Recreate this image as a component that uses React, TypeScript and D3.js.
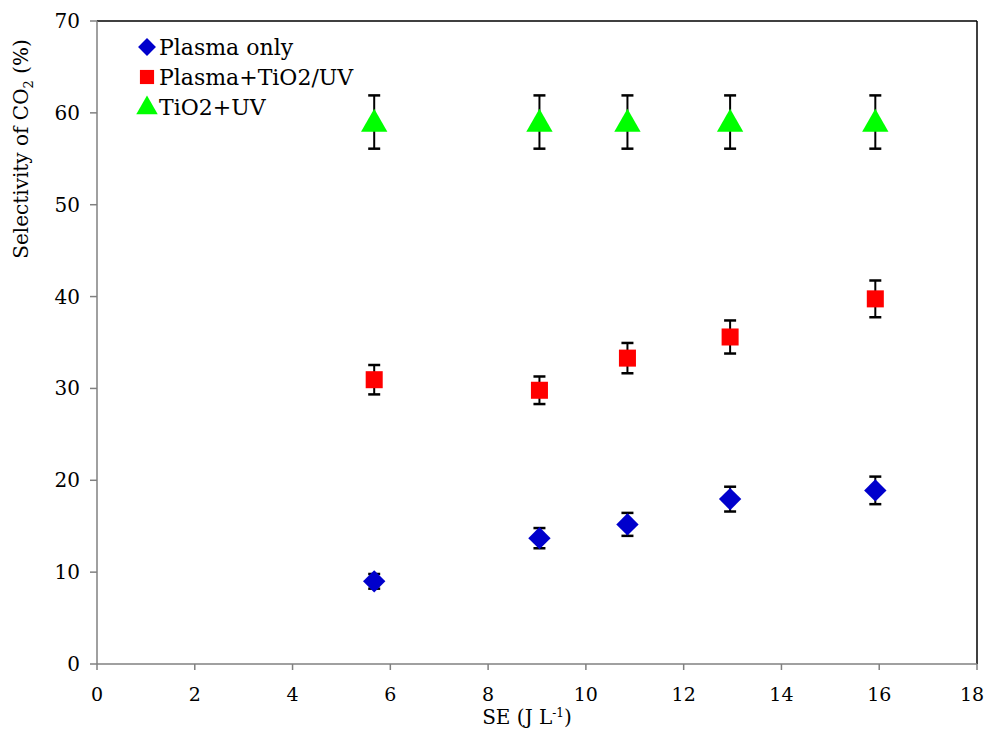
import React from "react";
import * as d3 from "d3";

const seValues = [5.67, 9.05, 10.85, 12.95, 15.92];
const plasmaOnly = [9.0, 13.7, 15.2, 17.95, 18.9];
const plasmaOnlyErr = [0.8, 1.1, 1.25, 1.35, 1.5];
const plasmaTiO2 = [30.95, 29.8, 33.3, 35.6, 39.75];
const plasmaTiO2Err = [1.6, 1.5, 1.65, 1.8, 2.0];
const tio2UV = [59.0, 59.0, 59.0, 59.0, 59.0];
const tio2UVErr = [2.9, 2.9, 2.9, 2.9, 2.9];
const xTicks = [0, 2, 4, 6, 8, 10, 12, 14, 16, 18];
const yTicks = [0, 10, 20, 30, 40, 50, 60, 70];
const seriesNames = ["Plasma only", "Plasma+TiO2/UV", "TiO2+UV"];

const W = 984, H = 731;
const L = 97, R = 977, T = 21, B = 664;
const FONT = "'DejaVu Serif', 'Liberation Serif', 'Times New Roman', serif";

export default function App() {
  const x = d3.scaleLinear().domain([0, 18]).range([L, R]);
  const y = d3.scaleLinear().domain([0, 70]).range([B, T]);
  const series = [
    { name: seriesNames[0], vals: plasmaOnly, err: plasmaOnlyErr, color: "#0000CC", shape: d3.symbolSquare, size: 250, rot: 45, dy: 0 },
    { name: seriesNames[1], vals: plasmaTiO2, err: plasmaTiO2Err, color: "#FF0000", shape: d3.symbolSquare, size: 290, rot: 0, dy: 0 },
    { name: seriesNames[2], vals: tio2UV, err: tio2UVErr, color: "#00FF00", shape: d3.symbolTriangle, size: 300, rot: 0, dy: 2 },
  ];
  const sym = (shape: any, size: number) => d3.symbol().type(shape).size(size)() as string;
  const txt = { fontFamily: FONT } as React.CSSProperties;

  return (
    <svg width={W} height={H} fontFamily={FONT} style={{ position: "absolute", left: 0, top: 0, background: "#fff", fontFamily: FONT }}>
      <rect x={0} y={0} width={W} height={H} fill="#fff" />
      <line x1={L} y1={T} x2={R} y2={T} stroke="#000" strokeWidth={1.5} />
      <line x1={R} y1={T} x2={R} y2={B} stroke="#000" strokeWidth={1.5} />
      <line x1={L} y1={T} x2={L} y2={B} stroke="#808080" strokeWidth={1.5} />
      <line x1={L} y1={B} x2={R} y2={B} stroke="#808080" strokeWidth={1.5} />
      {yTicks.map((t) => (
        <g key={"y" + t}>
          <line x1={L - 7} x2={L} y1={y(t)} y2={y(t)} stroke="#808080" strokeWidth={1.5} />
          <text x={L - 17} y={y(t) + 7} fontSize={20} style={txt} textAnchor="end" fill="#000">{t}</text>
        </g>
      ))}
      {xTicks.map((t) => (
        <g key={"x" + t}>
          <line x1={x(t)} x2={x(t)} y1={B} y2={B + 6} stroke="#808080" strokeWidth={1.5} />
          <text x={Math.min(x(t), W - 12)} y={B + 37} fontSize={19} style={txt} textAnchor="middle" fill="#000">{t}</text>
        </g>
      ))}
      <text x={527} y={724} fontSize={20} style={txt} textAnchor="middle" fill="#000">
        SE (J L<tspan dy={-7} fontSize={12}>-1</tspan><tspan dy={7}>)</tspan>
      </text>
      <text transform={`translate(28,${149}) rotate(-90)`} fontSize={20} style={txt} textAnchor="middle" fill="#000">
        Selectivity of CO<tspan dy={5} fontSize={13}>2</tspan><tspan dy={-5}> (%)</tspan>
      </text>
      {series.map((s) => (
        <g key={s.name}>
          {s.vals.map((v, i) => {
            const cx = x(seValues[i]);
            const y1 = y(v + s.err[i]);
            const y2 = y(v - s.err[i]);
            return (
              <g key={i}>
                <line x1={cx} x2={cx} y1={y1} y2={y2} stroke="#000" strokeWidth={2} />
                <line x1={cx - 6} x2={cx + 6} y1={y1} y2={y1} stroke="#000" strokeWidth={2.5} />
                <line x1={cx - 6} x2={cx + 6} y1={y2} y2={y2} stroke="#000" strokeWidth={2.5} />
              </g>
            );
          })}
          {s.vals.map((v, i) => (
            <path key={"m" + i} d={sym(s.shape, s.size)} transform={`translate(${x(seValues[i])},${y(v) + s.dy}) rotate(${s.rot})`} fill={s.color} />
          ))}
        </g>
      ))}
      {series.map((s, i) => (
        <g key={"lg" + i}>
          <path d={sym(s.shape, i === 0 ? 160 : 200)} transform={`translate(147,${47 + i * 30 + (i === 2 ? 1 : 0)}) rotate(${s.rot})`} fill={s.color} />
          <text x={159} y={55 + i * 30} fontSize={22} style={txt} fill="#000">{s.name}</text>
        </g>
      ))}
    </svg>
  );
}
